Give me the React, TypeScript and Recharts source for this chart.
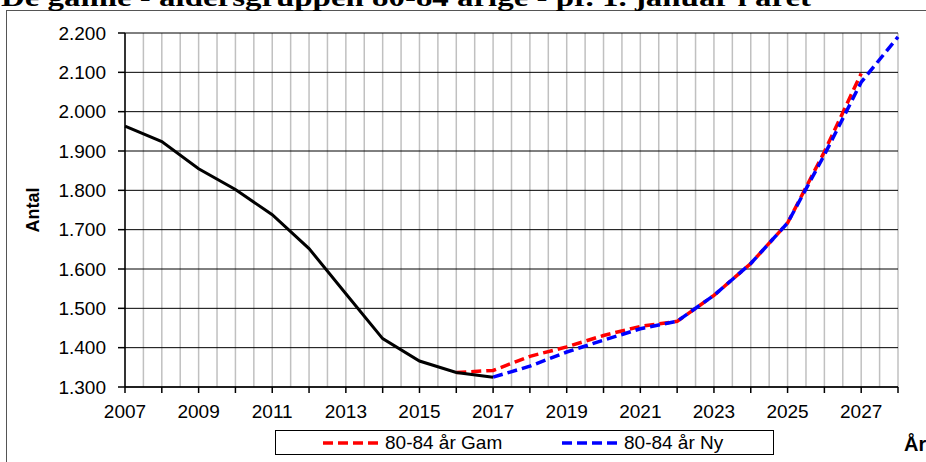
import React from "react";
import {
  LineChart,
  Line,
  XAxis,
  YAxis,
  CartesianGrid,
  Legend,
} from "recharts";

// ─── Data ───────────────────────────────────────────────────────────

const years = [
  2007, 2008, 2009, 2010, 2011, 2012, 2013, 2014, 2015, 2016, 2017,
  2018, 2019, 2020, 2021, 2022, 2023, 2024, 2025, 2026, 2027, 2028,
];

// Faktisk antal 80-84 årige
const actual = [
  1963, 1924, 1855, 1802, 1738, 1652, 1537, 1423, 1366, 1337, 1325,
  null, null, null, null, null, null, null, null, null, null, null,
];

// Prognose "Gam"
const gam = [
  null, null, null, null, null, null, null, null, null, 1337, 1342,
  1378, 1402, 1431, 1454, 1467, 1533, 1614, 1717, 1898, 2097, null,
];

// Prognose "Ny"
const ny = [
  null, null, null, null, null, null, null, null, null, null, 1325,
  1353, 1389, 1419, 1448, 1467, 1533, 1614, 1717, 1890, 2075, 2190,
];

const yTicks = [1300, 1400, 1500, 1600, 1700, 1800, 1900, 2000, 2100, 2200];
const halfYears = years.flatMap((y) => (y < 2028 ? [y, y + 0.5] : [y]));

const chartData = years.map((year, i) => ({
  year,
  actual: actual[i],
  gam: gam[i],
  ny: ny[i],
}));

const FONT = "'Liberation Sans', Arial, sans-serif";

const fmtThousands = (v: number) =>
  `${Math.floor(v / 1000)}.${String(v % 1000).padStart(3, "0")}`;

// grid lines every half year, mapped through the x scale
function halfYearGrid({ xAxis, offset }: any) {
  const s = xAxis?.scale;
  return halfYears.map((v) => {
    if (typeof s === "function") return s(v);
    if (s && typeof s.map === "function") return s.map(v);
    const [d0, d1] = [years[0], years[years.length - 1]];
    return offset.left + ((v - d0) / (d1 - d0)) * offset.width;
  });
}

// ─── Legend ─────────────────────────────────────────────────────────

function LegendBox() {
  const items = [
    { label: "80-84 år Gam", color: "#ff0000", left: 47 },
    { label: "80-84 år Ny", color: "#0000ff", left: 286 },
  ];
  return (
    <div
      style={{
        position: "relative",
        width: 497,
        height: 23,
        border: "1px solid #000",
        background: "#fff",
        fontFamily: FONT,
        fontSize: 19,
      }}
    >
      {items.map((it) => (
        <div
          key={it.label}
          style={{
            position: "absolute",
            left: it.left,
            top: 0,
            height: 23,
            display: "flex",
            alignItems: "center",
            whiteSpace: "nowrap",
          }}
        >
          <svg width={58} height={8} style={{ marginRight: 4 }}>
            <line
              x1={0}
              y1={4}
              x2={58}
              y2={4}
              stroke={it.color}
              strokeWidth={3.5}
              strokeDasharray="10 5"
            />
          </svg>
          <span>{it.label}</span>
        </div>
      ))}
    </div>
  );
}

// ─── Chart ──────────────────────────────────────────────────────────

export default function App() {
  return (
    <div
      style={{
        position: "absolute",
        left: 0,
        top: 0,
        width: 926,
        height: 462,
        overflow: "hidden",
        background: "#fff",
      }}
    >
      {/* Ramme */}
      <div
        style={{
          position: "absolute",
          left: 6,
          top: 10,
          width: 940,
          height: 470,
          border: "1.5px solid #555",
        }}
      />

      {/* Titel (beskåret i toppen) */}
      <svg
        width={926}
        height={16}
        style={{ position: "absolute", left: 0, top: 0 }}
      >
        <text
          x={1}
          y={6}
          textLength={810}
          lengthAdjust="spacingAndGlyphs"
          fontFamily="'Liberation Serif', 'Times New Roman', serif"
          fontWeight="bold"
          fontSize={25}
          fill="#000"
        >
          De gamle - aldersgruppen 80-84 årige - pr. 1. januar i året
        </text>
      </svg>

      <div style={{ position: "absolute", left: 0, top: 0 }}>
        <LineChart
          width={926}
          height={462}
          data={chartData}
          margin={{ top: 33, right: 28, left: 25, bottom: 35 }}
        >
          <CartesianGrid
            horizontal={false}
            stroke="#c0c0c0"
            strokeWidth={1.5}
            verticalCoordinatesGenerator={halfYearGrid}
          />
          <CartesianGrid vertical={false} stroke="#000" strokeWidth={1} />
          <XAxis
            dataKey="year"
            type="number"
            domain={[2007, 2028]}
            ticks={years}
            interval={0}
            tickSize={6}
            tickMargin={12}
            height={40}
            axisLine={{ stroke: "#000", strokeWidth: 1.5 }}
            tickLine={{ stroke: "#000", strokeWidth: 1.5 }}
            tickFormatter={(v: number) => (v % 2 === 1 ? String(v) : "")}
            tick={{ fill: "#000", fontSize: 19, fontFamily: FONT }}
          />
          <YAxis
            type="number"
            domain={[1300, 2200]}
            ticks={yTicks}
            interval={0}
            width={100}
            tickSize={7}
            tickMargin={12}
            axisLine={{ stroke: "#000", strokeWidth: 1.5 }}
            tickLine={{ stroke: "#000", strokeWidth: 1.5 }}
            tickFormatter={fmtThousands}
            tick={{ fill: "#000", fontSize: 19, fontFamily: FONT }}
          />
          <Legend
            layout="horizontal"
            verticalAlign="middle"
            align="center"
            wrapperStyle={{ left: 275, top: 430, width: 499 }}
            content={() => <LegendBox />}
          />
          <Line
            type="linear"
            dataKey="gam"
            name="80-84 år Gam"
            stroke="#ff0000"
            strokeWidth={3.5}
            strokeDasharray="10 5"
            dot={false}
            activeDot={false}
            connectNulls={false}
            isAnimationActive={false}
          />
          <Line
            type="linear"
            dataKey="ny"
            name="80-84 år Ny"
            stroke="#0000ff"
            strokeWidth={3.5}
            strokeDasharray="10 5"
            dot={false}
            activeDot={false}
            connectNulls={false}
            isAnimationActive={false}
          />
          <Line
            type="linear"
            dataKey="actual"
            name="Faktisk"
            legendType="none"
            stroke="#000"
            strokeWidth={3}
            dot={false}
            activeDot={false}
            connectNulls={false}
            isAnimationActive={false}
          />
        </LineChart>
      </div>

      {/* Aksetitler */}
      <div
        style={{
          position: "absolute",
          left: 33,
          top: 210,
          transform: "translate(-50%, -50%) rotate(-90deg)",
          fontFamily: FONT,
          fontWeight: "bold",
          fontSize: 18,
          whiteSpace: "nowrap",
        }}
      >
        Antal
      </div>
      <div
        style={{
          position: "absolute",
          left: 904,
          top: 433,
          fontFamily: FONT,
          fontWeight: "bold",
          fontSize: 20,
          whiteSpace: "nowrap",
        }}
      >
        År
      </div>
    </div>
  );
}
